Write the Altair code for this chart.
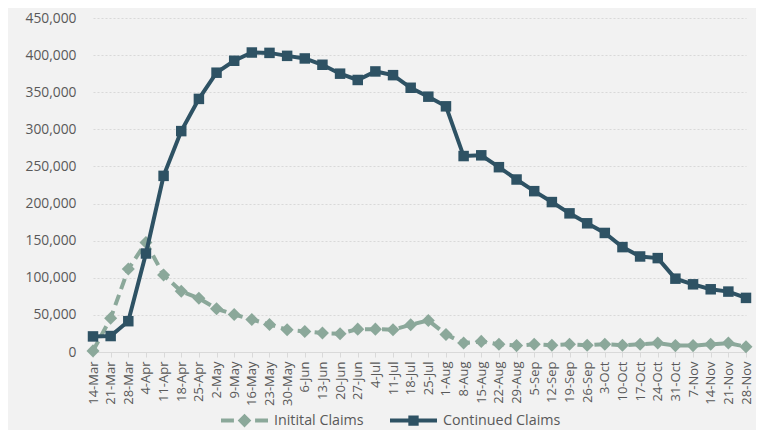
import altair as alt
import pandas as pd

weeks = ["14-Mar", "21-Mar", "28-Mar", "4-Apr", "11-Apr", "18-Apr", "25-Apr", "2-May",
         "9-May", "16-May", "23-May", "30-May", "6-Jun", "13-Jun", "20-Jun", "27-Jun",
         "4-Jul", "11-Jul", "18-Jul", "25-Jul", "1-Aug", "8-Aug", "15-Aug", "22-Aug",
         "29-Aug", "5-Sep", "12-Sep", "19-Sep", "26-Sep", "3-Oct", "10-Oct", "17-Oct",
         "24-Oct", "31-Oct", "7-Nov", "14-Nov", "21-Nov", "28-Nov"]

initial_claims = [1500, 45600, 111800, 147500, 103700, 81800, 72400, 58200, 50500, 43800,
                  37100, 30000, 27700, 25500, 24700, 30800, 30800, 30000, 36700, 42500,
                  23700, 12000, 14300, 10300, 8600, 10300, 9000, 10300, 9000, 10500,
                  9000, 10500, 12000, 8600, 8600, 10300, 12000, 7200]

continued_claims = [21000, 21500, 41500, 132700, 237300, 297600, 341000, 376300, 392400,
                    403500, 403000, 399000, 395500, 387000, 375000, 366500, 378000, 373000,
                    356000, 344000, 331000, 264000, 265000, 249000, 232400, 216700, 202000,
                    186800, 173400, 160400, 141300, 128700, 126500, 98800, 91200, 84500,
                    81400, 72900]

series_names = ["Initital Claims", "Continued Claims"]
series_colors = ["#8ba89a", "#2e5264"]

rows = []
for w, i, c in zip(weeks, initial_claims, continued_claims):
    rows.append({"week": w, "series": series_names[0], "value": i})
    rows.append({"week": w, "series": series_names[1], "value": c})
df = pd.DataFrame(rows)

FONT = "Open Sans"
LABEL_COLOR = "#595959"

# legend glyphs (fill-only paths): dashed line with diamond, solid line with square
PATH_I = ("M-1,-0.085H-0.45V0.085H-1Z M0.45,-0.085H1V0.085H0.45Z "
          "M0,-0.29L0.29,0L0,0.29L-0.29,0Z")
PATH_C = "M-1,-0.085H1V0.085H-1Z M-0.22,-0.22H0.22V0.22H-0.22Z"

legend = alt.Legend(
    title=None,
    orient="none",
    direction="horizontal",
    legendX=128,
    legendY=379,
    symbolSize=2209,
    symbolStrokeWidth=0,
    symbolOpacity=1,
    labelFontSize=14.3,
    labelFont=FONT,
    labelColor=LABEL_COLOR,
    labelOffset=6,
    columnPadding=26,
)

x = alt.X("week:N", sort=weeks, title=None,
          scale=alt.Scale(type="point", padding=0),
          axis=alt.Axis(labelAngle=-90, labelFontSize=13, labelFont=FONT, labelColor=LABEL_COLOR,
                        labelPadding=4, tickColor="#d9d9d9", tickSize=5, domainColor="#d9d9d9",
                        domainWidth=1, grid=False))
y = alt.Y("value:Q", title=None,
          scale=alt.Scale(domain=[0, 450000], nice=False),
          axis=alt.Axis(values=list(range(0, 450001, 50000)), format=",.0f", labelFontSize=13.8,
                        labelFont=FONT, labelColor=LABEL_COLOR, labelPadding=17, ticks=False,
                        domain=False, gridColor="#d9d9d9", gridDash=[2, 2], gridWidth=1))

base = alt.Chart(df)

legend_layer = base.mark_point(filled=True, opacity=0).encode(
    x=x, y=y,
    color=alt.Color("series:N", scale=alt.Scale(domain=series_names, range=series_colors), legend=legend),
    shape=alt.Shape("series:N", scale=alt.Scale(domain=series_names, range=[PATH_I, PATH_C]), legend=legend),
)

init = base.transform_filter(alt.datum.series == series_names[0])
cont = base.transform_filter(alt.datum.series == series_names[1])

init_line = init.mark_line(strokeWidth=4, strokeDash=[11, 6], color=series_colors[0]).encode(x=x, y=y)
init_pts = init.mark_point(shape="diamond", filled=True, size=170, opacity=1,
                           color=series_colors[0]).encode(x=x, y=y)
cont_line = cont.mark_line(strokeWidth=4, color=series_colors[1]).encode(x=x, y=y)
cont_pts = cont.mark_point(shape="square", filled=True, size=110, opacity=1,
                           color=series_colors[1]).encode(x=x, y=y)

chart = alt.layer(legend_layer, init_line, init_pts, cont_line, cont_pts).properties(
    width=653, height=334,
    autosize=alt.AutoSizeParams(type="none"),
    padding={"left": 85, "top": 10, "right": 10, "bottom": 78},
    background="#f2f2f2",
).configure_view(stroke=None)

chart.save("out.html", embed_options={"renderer": "svg", "actions": False})
